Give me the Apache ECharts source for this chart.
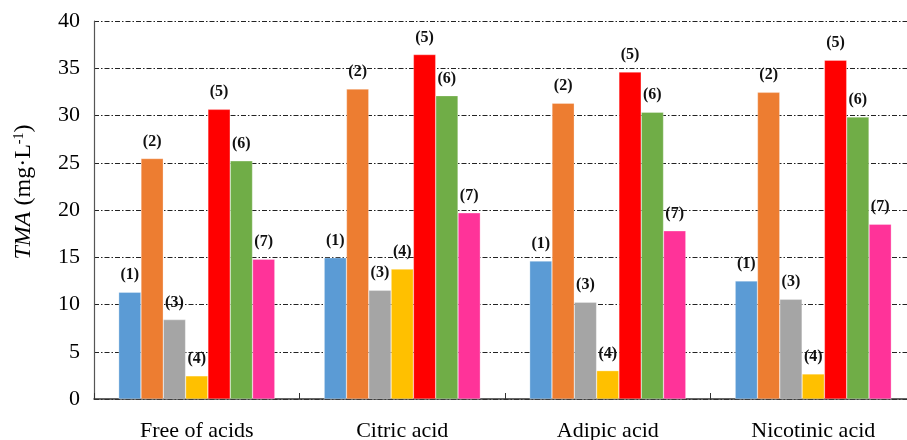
<!DOCTYPE html>
<html>
<head>
<meta charset="utf-8">
<script src="https://cdn.jsdelivr.net/npm/echarts@6/dist/echarts.min.js"></script>
<style>html,body{margin:0;padding:0;background:#fff}#c{width:907px;height:440px}</style>
</head>
<body>
<div id="c"></div>
<script>
const categories = ['Free of acids', 'Citric acid', 'Adipic acid', 'Nicotinic acid'];
const seriesNames = ['(1)', '(2)', '(3)', '(4)', '(5)', '(6)', '(7)'];
const s1 = [11.3, 14.95, 14.6, 12.5];
const s2 = [25.45, 32.8, 31.3, 32.45];
const s3 = [8.4, 11.5, 10.25, 10.55];
const s4 = [2.45, 13.75, 3.0, 2.65];
const s5 = [30.65, 36.45, 34.6, 35.85];
const s6 = [25.2, 32.1, 30.35, 29.85];
const s7 = [14.8, 19.7, 17.8, 18.5];
const yTicks = [0, 5, 10, 15, 20, 25, 30, 35, 40];
const colors = ['#5B9BD5', '#ED7D31', '#A5A5A5', '#FFC000', '#FF0000', '#70AD47', '#FF3399'];

const allSeries = [s1, s2, s3, s4, s5, s6, s7];
const serif = '"Liberation Serif","Times New Roman",serif';

const chart = echarts.init(document.getElementById('c'), null, {renderer: 'canvas'});
chart.setOption({
  animation: false,
  backgroundColor: '#fff',
  grid: {left: 94, top: 21, height: 378, width: 822, containLabel: false, outerBoundsMode: 'none'},
  xAxis: {
    type: 'category',
    data: categories,
    axisLine: {lineStyle: {color: '#333', width: 1.5}},
    axisTick: {show: true, inside: true, length: 6, lineStyle: {color: '#333'}},
    axisLabel: {color: '#000', fontFamily: serif, fontSize: 22, margin: 21}
  },
  yAxis: {
    type: 'value',
    min: yTicks[0],
    max: yTicks[yTicks.length - 1],
    interval: 5,
    name: '{i|TMA} (mg·L{sup|-1})',
    nameLocation: 'middle',
    nameGap: 58,
    nameRotate: 90,
    nameTextStyle: {
      color: '#000', fontFamily: serif, fontSize: 24,
      padding: [0, 0, 0, 36],
      rich: {
        i: {fontStyle: 'italic', fontFamily: serif, fontSize: 24, color: '#000'},
        sup: {fontFamily: serif, fontSize: 14, color: '#000', padding: [0, 0, 10, 0]}
      }
    },
    axisLine: {show: true, lineStyle: {color: '#555', width: 1.2}},
    axisTick: {show: false},
    axisLabel: {color: '#000', fontFamily: serif, fontSize: 22, margin: 14},
    splitLine: {show: true, lineStyle: {color: '#222', width: 1, type: [5, 2, 1.5, 2]}}
  },
  series: allSeries.map((d, i) => ({
    name: seriesNames[i],
    type: 'bar',
    data: d,
    barGap: '0%',
    barCategoryGap: '24%',
    itemStyle: {color: colors[i], borderColor: 'rgba(255,255,255,0.6)', borderWidth: 0.5},
    label: {
      show: true, position: 'top', distance: 9,
      formatter: '{a}', color: '#111',
      fontFamily: serif, fontWeight: 'bold', fontSize: 16
    }
  }))
});
</script>
</body>
</html>
